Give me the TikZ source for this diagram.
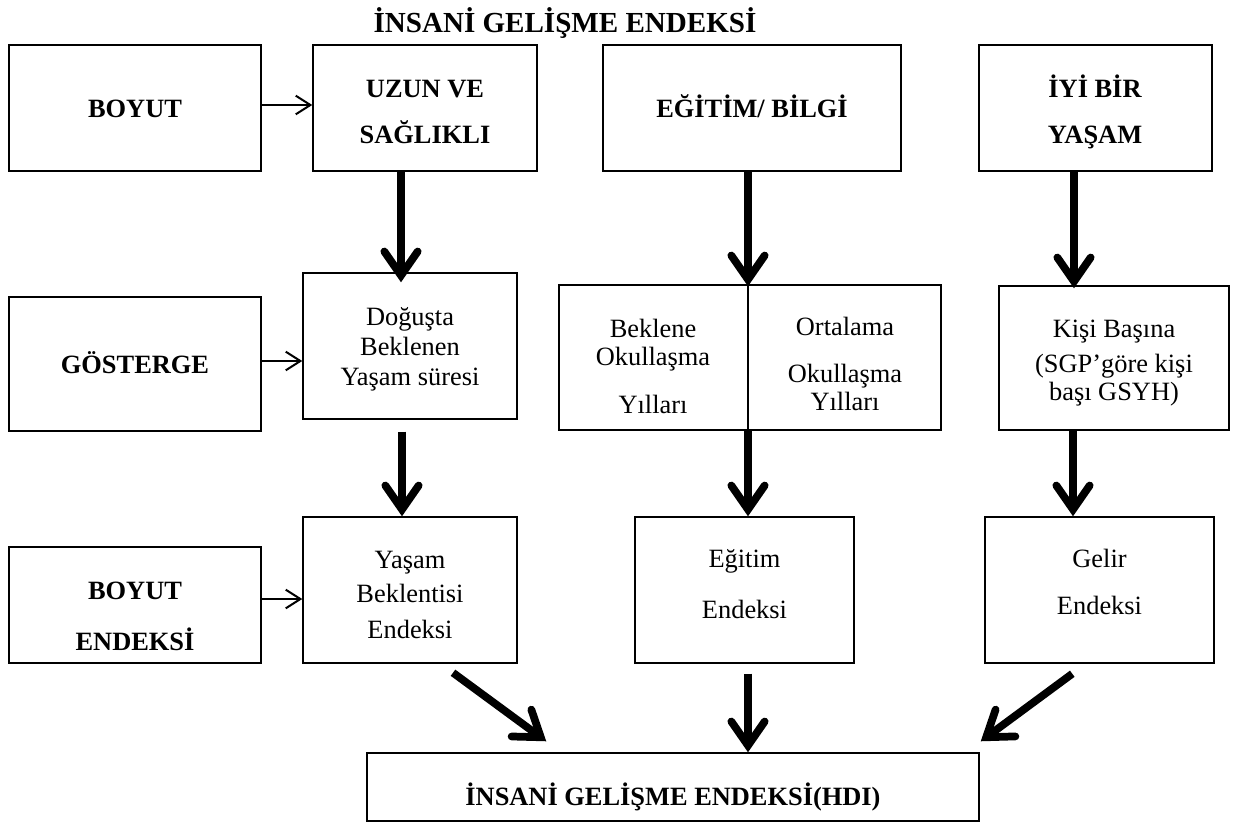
\documentclass[tikz,border=0pt]{standalone}
\usepackage{fontspec}
\setmainfont{Liberation Serif}
\usetikzlibrary{arrows.meta,calc}
\begin{document}
\begin{tikzpicture}[x=0.75pt,y=-0.75pt,
  box/.style={draw, line width=1.1pt, inner sep=0pt},
  lab/.style={anchor=base, inner sep=0pt, font=\bfseries\fontsize{19.8}{24}\selectfont},
  txt/.style={anchor=base, inner sep=0pt, font=\fontsize{19.8}{24}\selectfont},
  thickarr/.style={line width=5.8pt, -{Straight Barb[length=18pt,width=25pt,line cap=round]}},
  thinarr/.style={line width=1.5pt, -{Straight Barb[length=11pt,width=14pt]}}]
\useasboundingbox (0,0) rectangle (1235,822);

% title
\node[anchor=base, inner sep=0pt, font=\bfseries\fontsize{21.8}{26}\selectfont] (title) at (565,32) {İNSANİ GELİŞME ENDEKSİ};

% row 1
\node[box, minimum width=189pt, minimum height=94.5pt] (boyut) at (135,108) {};
\node[box, minimum width=168pt, minimum height=94.5pt] (uzun) at (425,108) {};
\node[box, minimum width=223.5pt, minimum height=94.5pt] (egitim) at (752,108) {};
\node[box, minimum width=174.75pt, minimum height=94.5pt] (iyi) at (1095.5,108) {};
\node[lab] (boyutT) at (135,117) {BOYUT};
\node[lab] (uzunA) at (425,97) {UZUN VE};
\node[lab] (uzunB) at (425,143) {SAĞLIKLI};
\node[lab] (egitimT) at (752,117) {EĞİTİM/ BİLGİ};
\node[lab] (iyiA) at (1095,97) {İYİ BİR};
\node[lab] (iyiB) at (1095,143) {YAŞAM};

% row 2
\node[box, minimum width=189pt, minimum height=100.5pt] (gosterge) at (135,364) {};
\node[box, minimum width=160.5pt, minimum height=109.5pt] (dogus) at (410,346) {};
\node[box, minimum width=286.5pt, minimum height=108.75pt] (okul) at (750,357.5) {};
\node[box, minimum width=172.5pt, minimum height=108pt] (kisi) at (1114,358) {};
\draw[line width=1.1pt] (okul.north -| 748,0) -- (okul.south -| 748,0);
\node[lab] (gostergeT) at (135,373) {GÖSTERGE};
\node[txt] (dogusA) at (410,325) {Doğuşta};
\node[txt] (dogusB) at (410,355) {Beklenen};
\node[txt] (dogusC) at (410,385) {Yaşam süresi};
\node[txt] (okulLA) at (653,337) {Beklene};
\node[txt] (okulLB) at (653,365) {Okullaşma};
\node[txt] (okulLC) at (653,413) {Yılları};
\node[txt] (okulRA) at (845,335) {Ortalama};
\node[txt] (okulRB) at (845,382) {Okullaşma};
\node[txt] (okulRC) at (845,410) {Yılları};
\node[txt] (kisiA) at (1114,337) {Kişi Başına};
\node[txt] (kisiB) at (1114,372) {(SGP’göre kişi};
\node[txt] (kisiC) at (1114,400) {başı GSYH)};

% row 3
\node[box, minimum width=189pt, minimum height=87pt] (bend) at (135,605) {};
\node[box, minimum width=160.5pt, minimum height=109.5pt] (yasam) at (410,590) {};
\node[box, minimum width=164.25pt, minimum height=109.5pt] (egend) at (744.5,590) {};
\node[box, minimum width=171.75pt, minimum height=109.5pt] (gelir) at (1099.5,590) {};
\node[lab] (bendA) at (135,599) {BOYUT};
\node[lab] (bendB) at (135,650) {ENDEKSİ};
\node[txt] (yasamA) at (410,568) {Yaşam};
\node[txt] (yasamB) at (410,602) {Beklentisi};
\node[txt] (yasamC) at (410,638) {Endeksi};
\node[txt] (egendA) at (744.5,567) {Eğitim};
\node[txt] (egendB) at (744.5,618) {Endeksi};
\node[txt] (gelirA) at (1099.5,567) {Gelir};
\node[txt] (gelirB) at (1099.5,614) {Endeksi};

% bottom
\node[box, minimum width=459pt, minimum height=51pt] (hdi) at (673,787) {};
\node[lab] (hdiT) at (673,805) {İNSANİ GELİŞME ENDEKSİ(HDI)};

% thin arrows
\draw[thinarr] (boyut.east |- 0,105) -- (uzun.west |- 0,105);
\draw[thinarr] (gosterge.east |- 0,361) -- (dogus.west |- 0,361);
\draw[thinarr] (bend.east |- 0,599) -- (yasam.west |- 0,599);

% thick arrows
\draw[thickarr, shorten >=-7.5pt] (uzun.south -| 401,0) -- (dogus.north -| 401,0);
\draw[thickarr, shorten >=-1.5pt] (egitim.south -| 748,0) -- (okul.north -| 748,0);
\draw[thickarr, shorten >=-2.25pt] (iyi.south -| 1074,0) -- (kisi.north -| 1074,0);
\draw[thickarr, shorten <=9pt] (dogus.south -| 402,0) -- (yasam.north -| 402,0);
\draw[thickarr] (okul.south -| 748,0) -- (egend.north -| 748,0);
\draw[thickarr] (kisi.south -| 1073,0) -- (gelir.north -| 1073,0);
\draw[thickarr, shorten <=7.5pt] (egend.south -| 748,0) -- (hdi.north -| 748,0);
\draw[thickarr] ($(yasam.south)+(43,9)$) -- ($(hdi.north west)+(180,-11)$);
\draw[thickarr] ($(gelir.south west)+(88,10)$) -- ($(hdi.north east)+(1,-11)$);
\end{tikzpicture}
\end{document}
